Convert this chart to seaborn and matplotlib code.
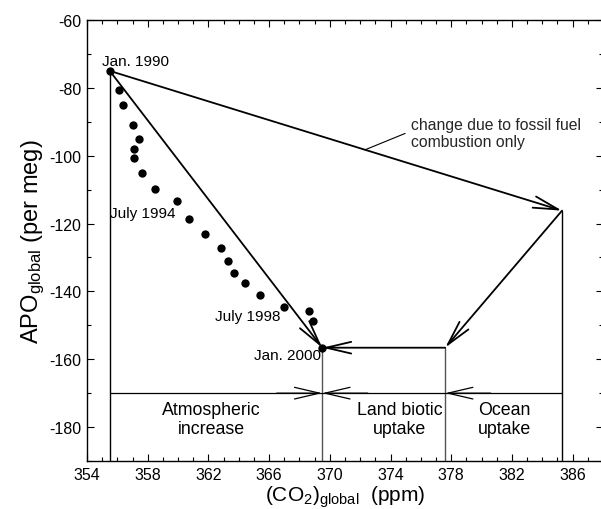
import matplotlib
matplotlib.use("Agg")
import matplotlib.pyplot as plt
from matplotlib.ticker import MultipleLocator
import seaborn as sns
import pandas as pd

# ---- data ----
co2 = [355.5, 356.1, 356.4, 357.0, 357.4, 357.1, 357.1, 357.6, 358.5, 359.9, 360.7,
       361.8, 362.8, 363.3, 363.7, 364.4, 365.4, 367.0, 368.6, 368.9, 369.5]
apo = [-75.0, -80.5, -85.1, -91.0, -95.1, -98.0, -100.8, -105.0, -109.8, -113.3, -118.6,
       -123.1, -127.1, -131.0, -134.5, -137.4, -141.0, -144.5, -145.8, -148.7, -156.6]

start_pt = (355.5, -75.0)     # Jan. 1990
fossil_pt = (385.3, -116.2)   # fossil fuel combustion only
ocean_pt = (377.6, -156.6)    # after ocean uptake
end_pt = (369.5, -156.6)      # Jan. 2000
budget_y = -170.0

date_labels = ["Jan. 1990", "July 1994", "July 1998", "Jan. 2000"]
date_label_pos = [(357.2, -72.0), (357.7, -116.8), (364.6, -147.3), (367.2, -158.8)]

region_labels = ["Atmospheric\nincrease", "Land biotic\nuptake", "Ocean\nuptake"]
region_label_x = [362.2, 374.6, 381.5]
region_label_y = -177.6

xticks = [354, 358, 362, 366, 370, 374, 378, 382, 386]
yticks = [-180, -160, -140, -120, -100, -80, -60]

# ---- style ----
sns.set_theme(style="ticks")
plt.rcParams["font.family"] = ["Liberation Sans", "DejaVu Sans"]
plt.rcParams["mathtext.fontset"] = "custom"
plt.rcParams["mathtext.rm"] = "Liberation Sans"
plt.rcParams["mathtext.default"] = "regular"
plt.rcParams["axes.unicode_minus"] = False

fig = plt.figure(figsize=(6.01, 5.10), dpi=100)
ax = fig.add_axes([87 / 601, 1 - 462 / 510, 516 / 601, 441 / 510])

df = pd.DataFrame({"co2": co2, "apo": apo})
sns.scatterplot(data=df, x="co2", y="apo", ax=ax, color="black", s=36,
                edgecolor="black", linewidth=0, zorder=5)

lw_main = 1.3
head = "->,head_length=1.8,head_width=0.42"


def arrow(p_from, p_to, lw=lw_main, color="black"):
    ax.annotate("", xy=p_to, xytext=p_from,
                arrowprops=dict(arrowstyle=head, mutation_scale=10, lw=lw,
                                color=color, shrinkA=0, shrinkB=0),
                zorder=4)


# main vector diagram
arrow(start_pt, fossil_pt)
arrow(start_pt, end_pt)
arrow(fossil_pt, ocean_pt)
arrow(ocean_pt, end_pt)

# vertical guides
ax.plot([start_pt[0], start_pt[0]], [start_pt[1], -190], color="black", lw=1.0)
ax.plot([fossil_pt[0], fossil_pt[0]], [fossil_pt[1], -190], color="black", lw=1.0)
ax.plot([end_pt[0], end_pt[0]], [end_pt[1], -190], color="#555555", lw=1.0)
ax.plot([ocean_pt[0], ocean_pt[0]], [ocean_pt[1], -190], color="#555555", lw=1.0)

# budget line
ax.plot([start_pt[0], fossil_pt[0]], [budget_y, budget_y], color="black", lw=0.9)
arrow((end_pt[0] - 3, budget_y), (end_pt[0], budget_y), lw=0.9)
arrow((end_pt[0] + 3, budget_y), (end_pt[0], budget_y), lw=0.9)
arrow((ocean_pt[0] + 3, budget_y), (ocean_pt[0], budget_y), lw=0.9)

# labels for dates
for lab, (x, y) in zip(date_labels, date_label_pos):
    ax.text(x, y, lab, ha="center", va="center", fontsize=11, color="black")

# fossil fuel annotation
ax.annotate("change due to fossil fuel\ncombustion only", xy=(372.3, -98.3),
            xytext=(375.35, -93.2), ha="left", va="center", fontsize=11.3,
            linespacing=1.15,
            arrowprops=dict(arrowstyle="-", lw=0.8, color="black",
                            shrinkA=2, shrinkB=0, relpos=(0, 0.55)))

# region labels
for lab, x in zip(region_labels, region_label_x):
    ax.text(x, region_label_y, lab, ha="center", va="center", fontsize=12.8,
            linespacing=1.2, color="black")

ax.set_xlim(354, 388)
ax.set_ylim(-190, -60)
ax.set_xticks(xticks)
ax.set_yticks(yticks)
ax.xaxis.set_minor_locator(MultipleLocator(1))
ax.yaxis.set_minor_locator(MultipleLocator(10))
ax.tick_params(which="both", direction="in", top=True, right=True,
               color="black", labelcolor="black", width=0.8)
ax.tick_params(which="major", length=5, labelsize=11.5, pad=4)
ax.tick_params(which="minor", length=3)
for sp in ax.spines.values():
    sp.set_color("black")
    sp.set_linewidth(1.0)
    sp.set_visible(True)

ax.set_xlabel("(CO$_2$)$_{global}$  (ppm)", fontsize=15, labelpad=1.5, color="black")
ax.set_ylabel("APO$_{global}$ (per meg)", fontsize=17, labelpad=2, color="black")

fig.savefig("out.png", dpi=100)
